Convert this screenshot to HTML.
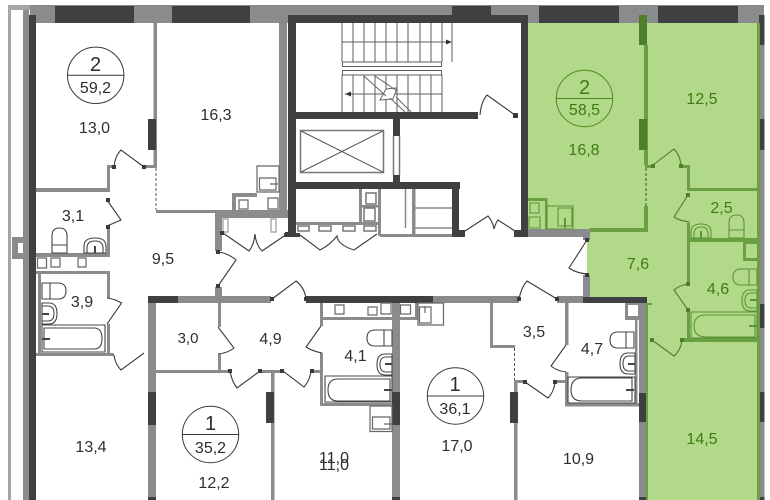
<!DOCTYPE html>
<html><head><meta charset="utf-8">
<style>
html,body{margin:0;padding:0;background:#fff}
svg{display:block;filter:blur(.3px)}
text{font-family:"Liberation Sans",sans-serif;font-size:16px;fill:#2e2e30;text-anchor:middle}
text.g{fill:#3f7a12}
text.b{font-size:20px}
</style></head><body>
<svg width="770" height="500" viewBox="0 0 770 500" xmlns="http://www.w3.org/2000/svg">
<rect width="770" height="500" fill="#fff"/>
<path d="M528 23H760V500H647V303H587V232H528Z" fill="#b2d88a"/>

<path fill="#a5a6a8" d="M8 5h22v5h-19v490h-3z"/>
<path fill="#8a8b8d" d="M23 10h6v490h-6zM12 237h11v22h-11zM30 5h734v18h-734zM760 23h4.500v477h-4.500z
M153.500 23h3.500v143h-3.500zM107 165h8v3h-8zM144 165h13v3h-13zM107 165h3v27h-3zM36 188h71v4h-71zM156 210h60v3h-60z
M215 210h73v8h-73zM232 193h25v4h-25zM232 193h4v18h-4zM279 23h8v195h-8zM215 213h7v38h-7z
M107 226h3v30h-3zM36 253h74v4h-74zM36 271h74v3h-74zM107 271h3v27h-3zM107 324h3v30h-3zM38 274h3v80h-3zM36 353h78v3h-78z
M148 296h8v204h-8zM178 296h93v7h-93zM215 287h7v10h-7zM218 303h3v24h-3zM218 354h3v17h-3zM156 370h74v3h-74zM260 370h22v3h-22z
M271 373h3.500v127h-3.500zM311 370h12v3h-12zM320 303h3v23h-3zM320 353h3v52h-3zM320 317h75v3h-75zM320 403h74v3h-74z
M392 303h8v197h-8zM400 317h17v3h-17zM415 303h2.500v17h-2.500zM433 296h86v7h-86zM490 303h3v44h-3zM490 345h25v3h-25z
M514 380h3.500v120h-3.500zM514 380h11v3h-11zM555 380h13v3h-13zM557 296h26v7h-26zM565 303h3.500v42h-3.500zM565 372h3.500v34h-3.500z
M565 403h75v3.500h-75zM635 320h2.500v84h-2.500zM625 303h15v17h-15zM639 303h7v197h-7zM528 229h62v8h-62zM583 229h7v11h-7zM583 275h7v22h-7z
M359 189h3v34h-3zM378 189h3v47h-3zM412 189h3.500v47h-3.500zM296 222h84v3h-84zM362 205h17v2.500h-17zM380 234h72v3h-72z"/>
<path fill="#fff" d="M628 305h10v11h-10zM18 243h5v10h-5z"/>

<path fill="#3f4042" d="M29 15h7v485h-7zM55 6h79v17h-79zM172 6h78v17h-78zM452 6h39v17h-39zM539 6h80v17h-80zM658 6h80v17h-80z
M148 119h8v31h-8zM288 15h8v220h-8zM288 15h240v8h-240zM284 233h16v4h-16zM296 112h182v7h-182zM521 15h7v222h-7z
M393 119h7v17h-7zM393 175h7v8h-7zM296 182h164v7h-164zM452 189h7v48h-7zM452 230h13v7h-13zM514 230h14v7h-14z
M148 296h30v7h-30zM148 392h8v33h-8zM148 497h8v3h-8zM266 392h8v31h-8zM306 296h127v7h-127zM392 392h8v33h-8zM392 497h8v3h-8z
M510 392h8v31h-8zM583 297h64v6h-64zM639 393h7v29h-7zM639 497h7v3h-7zM759 15h5.500v30h-5.500zM759 119h5.500v31h-5.500zM759 304h5.500v24h-5.500zM759 392h5.500v30h-5.500zM759 497h5.500v3h-5.500z"/>

<path fill="#6a9f42" d="M644 45h4v120h-4zM644 206h4v26h-4zM590 228h58v4h-58zM645 165h8v3h-8zM680 165h10v3h-10zM687 165h3v26h-3zM687 188h71v3h-71z
M757 23h3v477h-3zM687 223h3v61h-3zM687 238h71v4h-71zM687 310h3v31h-3zM683 338h75v4h-75zM646 303h2v197h-2zM646 303h6v2h-6z
M528 198h19v3h-19zM545 198h2.500v31h-2.500zM743 241h15v20h-15z"/>
<path fill="#b2d88a" d="M746 244h11v14h-11z"/>
<path fill="#4f7f2a" d="M639 15h8v30h-8zM639 119h8v31h-8z"/>
<path d="M646 168V206" stroke="#6a9f42" stroke-width="2" stroke-dasharray="3 2" fill="none"/>
<path d="M156 168V210M514.500 348V380" stroke="#555" stroke-width="1" stroke-dasharray="3 2" fill="none"/>

<g fill="none" stroke="#5c5d5f" stroke-width="1">
<path d="M342 23V62M353 23V62M364 23V62M375 23V62M386 23V62M397 23V62M408 23V62M420 23V62M431 23V62M442 23V62"/>
<path d="M342 75V112M353 75V112M364 75V112M375 75V112M386 75V112M397 75V112M408 75V112M420 75V112M431 75V112M442 75V112"/>
<path d="M342 42H450M345 94H442M452 23V62"/>
<path d="M342.500 62h99v4.500h-99zM342.500 70.500h99v4.500h-99z"/>
</g>
<path d="M380 100L386 89L397 88L393 99Z" fill="#fff" stroke="#666" stroke-width="1"/>
<path d="M364 76L386 96M375 76L397 91M390 98L405 112M396 97L411 112" fill="none" stroke="#666" stroke-width="1"/>
<path d="M446 39.500L452 42L446 44.500ZM351 91.500L345 94L351 96.500Z" fill="#333"/>

<g fill="none" stroke="#777" stroke-width="1.500">
<path d="M300.500 130.500h83v42h-83z"/>
<path d="M301 131L383 172M383 131L301 172" stroke="#555" stroke-width="1"/>
<path d="M393.500 136V175M399.500 136V175"/>
<path d="M366 193h10v11h-10zM364 208h11v13h-11zM298 226h11v5h-11zM319 226h12v5h-12zM343 226h12v5h-12zM364 226h12v5h-12z"/>
<path d="M405.500 189V228M415 208H452M415 228H452" stroke="#888"/>
</g>

<path fill="none" stroke="#666" stroke-width="1.200" d="M239 200h9v9h-9zM268 198h10v11h-10zM257 166h22v26h-22zM259.500 178h16.500v12h-16.500zM270 184H278
M37.500 258h9v10h-9zM51 258h9v9h-9zM78 258h8v9h-8zM335 305h9v9h-9zM368 307h9v8h-9zM381 303h10v11h-10zM400.500 305h10v9h-10z
M418 303h25.500v22h-25.500zM419.500 307h11.500v16h-11.500zM425 306V313M370 406h22v25.500h-22zM372.500 417h17.500v12h-17.500zM384 424H392"/>
<path fill="none" stroke="#999" stroke-width="1.200" d="M223 219h5v13h-5zM271 219h5v13h-5z"/>

<path fill="none" stroke="#444" stroke-width="1.100" d="M52 253V236Q52 228 59.500 228Q67 228 67 236V253ZM52 245H67
M84 253V246Q84 238 95 238Q106 238 106 246V253ZM87 253V248Q87 241 95 241Q103 241 103 248V253
M42 283H58Q66 283 66 291Q66 299 58 299H42ZM50 283V299
M42 303H49Q57 303 57 313.500Q57 324 49 324H42ZM42 306H48Q54 306 54 313.500Q54 321 48 321H42
M42 325h63v27h-63zM44 328H94Q102 328 102 338.500Q102 349 94 349H44Z
M392 330H375Q367 330 367 338Q367 346 375 346H392ZM384 330V346
M392 354H385Q377 354 377 364.500Q377 375 385 375H392ZM392 357H386Q380 357 380 364.500Q380 372 386 372H392
M325 376h67v26h-67zM390 379H338Q328 379 328 390Q328 401 338 401H390Z
M634 332H618Q610 332 610 340Q610 348 618 348H634ZM626 332V348
M635 353H628Q620 353 620 363.500Q620 374 628 374H635ZM635 356H629Q623 356 623 363.500Q623 371 629 371H635
M568 377h67v26h-67zM632 378H582Q571 378 571 390Q571 401 582 401H632Z"/>
<path fill="none" stroke="#444" stroke-width="2" d="M95 246V253M42 314H49M42 339H50M385 364H392M384 390H392M628 364H635M626 390H634"/>

<path fill="none" stroke="#5e9436" stroke-width="1.100" d="M530 203h9v10h-9zM529 217h11v11h-11zM547 206h26v23h-26zM558 208h14v18h-14z
M729 238V223Q729 215 736.500 215Q744 215 744 223V238ZM729 230H744
M691 238V232Q691 224 701 224Q711 224 711 232V238ZM694 238V234Q694 227 701 227Q708 227 708 234V238
M757 269H741Q733 269 733 277Q733 285 741 285H757ZM749 269V285
M757 290H750Q742 290 742 300.500Q742 311 750 311H757ZM757 293H751Q745 293 745 300.500Q745 308 751 308H757
M691 312h66v26h-66zM755 315H706Q694 315 694 326Q694 337 706 337H755Z"/>
<path fill="none" stroke="#5e9436" stroke-width="2" d="M565 218V228M701 231V238M750 300H757M749 326H758"/>

<path fill="none" stroke="#3a3a3c" stroke-width="1.100" d="M144 167L121 150Q115 156 114 167M107 200L121 220Q114 223 107 226
M107 298Q115 299 121.500 303L107 324M114 355Q115 364 121 370L144 353M223 233L249 251Q254 245 255 234Q256 245 262 251L287 234
M300 235L320 250Q330 245 337 236Q338 245 354 250L377 234M218 252Q228 253 236 260L218 286M272 299L296 281Q304 287 306 298
M218 327L234 348Q228 353 218 354M230 371Q232 382 237 388L260 371M283 371L304 387Q310 380 311 371M321 326L306 347Q312 351 322 353
M515 115L487 95Q481 102 480 115M465 231L488 216Q493 222 494 229Q496 222 498 220L515 231M519 299Q521 288 527 281L557 299
M525 382L548 398Q554 392 555 382M566 345L551 366Q557 371 566 372M587 240L569 268Q576 273 587 274"/>
<path fill="none" stroke="#4f7f2a" stroke-width="1.100" d="M653 165L674 149Q680 155 681 165M688 195L674 217Q680 221 690 222M688 284Q680 285 674 290L688 310M652 340L674 356Q681 350 682 340"/>
<path fill="#3a3a3c" d="M142 165h4v4h-4zM112 165h4v4h-4zM106 198h4v4h-4zM106 225h4v4h-4zM220 231h4v4h-4zM285 232h4v4h-4zM216 250h4v4h-4zM216 284h4v4h-4z
M270 297h4v4h-4zM304 297h4v4h-4zM513 113h5v5h-5zM517 297h4v4h-4zM555 297h4v4h-4zM585 238h4v4h-4zM585 273h4v4h-4zM228 369h4v4h-4zM258 369h4v4h-4z
M280 369h4v4h-4zM310 369h4v4h-4zM523 380h4v4h-4zM553 380h4v4h-4z"/>
<path fill="#4f7f2a" d="M651 164h4v4h-4zM679 164h4v4h-4zM686 193h4v4h-4zM686 282h4v4h-4zM686 308h4v4h-4zM650 338h4v4h-4zM680 338h4v4h-4z"/>

<g fill="none" stroke="#3a3a3c" stroke-width="1">
<circle cx="95.700" cy="75.300" r="28.200"/><path d="M67.500 75.300H124"/>
<circle cx="210.500" cy="434.500" r="28.200"/><path d="M182.500 434.500H239"/>
<circle cx="455.500" cy="396" r="28.200"/><path d="M427.500 396H483.500"/>
</g>
<g fill="none" stroke="#4f8a1f" stroke-width="1">
<circle cx="584.500" cy="98.500" r="28.200"/><path d="M556.500 98.500H612.500"/>
</g>

<text class="b" x="95.500" y="71">2</text>
<text x="95.500" y="93">59,2</text>
<text x="94.500" y="133">13,0</text>
<text x="216" y="120">16,3</text>
<text x="73" y="221">3,1</text>
<text x="163" y="264">9,5</text>
<text x="82" y="307">3,9</text>
<text x="91" y="452">13,4</text>
<text x="188" y="343" style="font-size:15px">3,0</text>
<text x="270.500" y="344">4,9</text>
<text class="b" x="210.500" y="430">1</text>
<text x="210.500" y="453">35,2</text>
<text x="214" y="488">12,2</text>
<text x="355.500" y="361">4,1</text>
<text x="334" y="463">11,0</text>
<text x="334" y="470">11,0</text>
<text class="b" x="455" y="391">1</text>
<text x="455" y="414">36,1</text>
<text x="457" y="451">17,0</text>
<text x="534" y="337">3,5</text>
<text x="592" y="354">4,7</text>
<text x="578.500" y="464">10,9</text>
<text class="g b" x="584.500" y="94">2</text>
<text class="g" x="584.500" y="115">58,5</text>
<text class="g" x="584" y="155">16,8</text>
<text class="g" x="702" y="104">12,5</text>
<text class="g" x="721.500" y="213">2,5</text>
<text class="g" x="638" y="269">7,6</text>
<text class="g" x="718" y="294">4,6</text>
<text class="g" x="702" y="444">14,5</text>
</svg>
</body></html>
